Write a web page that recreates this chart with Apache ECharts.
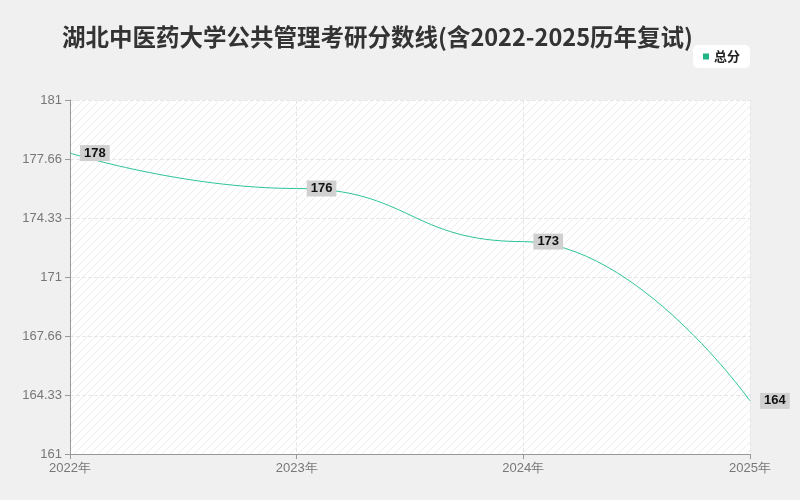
<!DOCTYPE html>
<html><head><meta charset="utf-8">
<script src="https://cdn.jsdelivr.net/npm/echarts@6/dist/echarts.min.js"></script>
<style>html,body{margin:0;background:#f0f0f0}#c{width:800px;height:500px}</style>
</head><body><div id="c"></div>
<script>
const years = ['2022年', '2023年', '2024年', '2025年'];
const scores = [178, 176, 173, 164];

// striped fill for the plot area
const pc = document.createElement('canvas');
pc.width = 8; pc.height = 8;
const g = pc.getContext('2d');
g.fillStyle = '#fff'; g.fillRect(0, 0, 8, 8);
g.strokeStyle = '#ececec'; g.lineWidth = 1;
g.beginPath(); g.moveTo(0, 8); g.lineTo(8, 0); g.stroke();

var myChart = echarts.init(document.getElementById('c'));
var option = {
  backgroundColor: '#f0f0f0',
  title: {
    text: '湖北中医药大学公共管理考研分数线(含2022-2025历年复试)',
    left: 57, top: 20,
    textStyle: { fontSize: 23.5, fontWeight: 'bold', color: '#333', fontFamily: 'Noto Sans CJK SC' }
  },
  legend: {
    data: ['总分'], right: 50, top: 45,
    backgroundColor: '#fff', borderRadius: 5, padding: [5, 10],
    icon: 'rect', itemWidth: 6, itemHeight: 6,
    textStyle: { fontSize: 13, color: '#222', fontWeight: 'bold', fontFamily: 'Noto Sans CJK SC' }
  },
  grid: { left: 70, right: 50, top: 100, bottom: 46, show: true, backgroundColor: { image: pc, repeat: 'repeat' }, borderWidth: 0 },
  xAxis: {
    type: 'category', data: years, boundaryGap: false,
    axisLine: { lineStyle: { color: '#999' } },
    axisTick: { lineStyle: { color: '#999' } },
    axisLabel: { color: '#777', fontSize: 13 },
    splitLine: { show: true, lineStyle: { color: '#e6e6e6', type: 'dashed' } }
  },
  yAxis: {
    type: 'value', min: 161, max: 181, interval: 20 / 6,
    axisLine: { show: true, lineStyle: { color: '#999' } },
    axisTick: { show: true, lineStyle: { color: '#999' } },
    axisLabel: { color: '#777', fontSize: 13, formatter: v => String(Math.floor(v * 100 + 1e-6) / 100) },
    splitLine: { lineStyle: { color: '#e6e6e6', type: 'dashed' } }
  },
  series: [{
    name: '总分', type: 'line', data: scores, smooth: true, smoothMonotone: 'x',
    symbol: 'circle', symbolSize: 0.1, color: '#20b486',
    lineStyle: { width: 1, color: '#2ec49a' },
    label: {
      show: true, position: 'right', distance: 10,
      backgroundColor: '#d0d0d0', padding: [2, 4, 1, 4],
      color: '#111', fontSize: 13, fontWeight: 'bold'
    }
  }]
};
myChart.setOption(option);
</script></body></html>
